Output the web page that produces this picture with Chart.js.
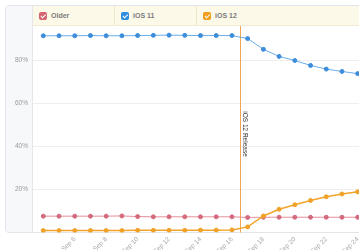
<!DOCTYPE html>
<html><head><meta charset="utf-8">
<script src="https://cdn.jsdelivr.net/npm/chart.js@4"></script>
<style>
html,body{margin:0;padding:0;background:#fff;overflow:hidden;width:359px;height:250px;}
#wrap{position:relative;width:359px;height:250px;overflow:hidden;font-family:"Liberation Sans",Arial,sans-serif;}
#card{position:absolute;left:5px;top:5px;width:420px;height:226px;border:1px solid #e2e5ea;border-radius:4px;background:#fff;}
#panel{position:absolute;left:6px;top:6px;width:26px;height:226px;background:#f7f8fa;border-right:1px solid #e4e7ec;border-radius:3px 0 0 3px;}
#legend{position:absolute;left:33px;top:6px;width:340px;height:19px;background:#fdf9e8;border-bottom:1px solid #f2ebd2;display:flex;z-index:3;}
.item{position:relative;width:82px;height:19px;border-right:1px solid #efe7cc;display:flex;align-items:center;padding-left:6px;box-sizing:border-box;font-size:7px;font-weight:bold;color:#7a7a7a;}
.item:nth-child(3){border-right:none;}
.box{width:8px;height:8px;border-radius:2px;margin-right:4px;position:relative;flex:none;}
.box:after{content:"";position:absolute;left:2.6px;top:1px;width:1.6px;height:3.6px;border-right:1.3px solid #fff;border-bottom:1.3px solid #fff;transform:rotate(45deg);}
canvas{position:absolute;left:0;top:0;z-index:2;}
</style></head>
<body><div id="wrap">
<div id="card"></div><div id="panel"></div>
<div id="legend"></div>
<canvas id="c" width="359" height="250"></canvas>
</div>
<script>
const labels = ['Sep 4','Sep 5','Sep 6','Sep 7','Sep 8','Sep 9','Sep 10','Sep 11','Sep 12','Sep 13','Sep 14','Sep 15','Sep 16','Sep 17','Sep 18','Sep 19','Sep 20','Sep 21','Sep 22','Sep 23','Sep 24'];
const older = [7.6,7.6,7.6,7.6,7.6,7.7,7.4,7.3,7.3,7.3,7.3,7.3,7.3,7.0,7.1,7.1,7.1,7.1,7.1,7.1,7.1];
const ios11 = [91.5,91.5,91.5,91.6,91.5,91.5,91.6,91.7,91.8,91.7,91.6,91.6,91.6,90.2,85.2,81.9,80.0,77.7,76.0,74.9,73.9];
const ios12 = [0.9,0.9,0.9,0.9,0.9,0.9,1.0,1.0,1.0,1.0,1.1,1.1,1.2,2.6,7.7,10.8,12.9,14.9,16.6,17.9,18.9];
const seriesNames = ['Older','iOS 11','iOS 12'];
const seriesColors = ['#d5646f','#2f8ddf','#f29d1c'];
const shownXTicks = ['Sep 6','Sep 8','Sep 10','Sep 12','Sep 14','Sep 16','Sep 18','Sep 20','Sep 22','Sep 24'];
const yTickValues = [20,40,60,80];
const releaseAt = 12.5;
const releaseText = 'iOS 12 Release';

const leg = document.getElementById('legend');
seriesNames.forEach((n,i)=>{
  const d=document.createElement('div');d.className='item';
  const b=document.createElement('span');b.className='box';b.style.background=seriesColors[i];
  d.appendChild(b);d.appendChild(document.createTextNode(n));leg.appendChild(d);
});

const pts = arr => arr.map((v,i)=>({x:i,y:v}));
const releasePlugin = {
  id:'release',
  beforeDatasetsDraw(chart){
    const {ctx, chartArea, scales:{x}} = chart;
    const px = Math.round(x.getPixelForValue(releaseAt))+0.5;
    ctx.save();
    ctx.strokeStyle='#f0a650';ctx.lineWidth=1;
    ctx.beginPath();ctx.moveTo(px,chartArea.top);ctx.lineTo(px,chartArea.bottom);ctx.stroke();
    ctx.translate(px+4,134);ctx.rotate(Math.PI/2);
    ctx.fillStyle='#333';ctx.font='6.5px "Liberation Sans", Arial, sans-serif';
    ctx.textAlign='center';ctx.textBaseline='middle';
    ctx.fillText(releaseText,0,0);
    ctx.restore();
  }
};

new Chart(document.getElementById('c'),{
  type:'line',
  data:{datasets:[
    {label:'iOS 12',data:pts(ios12),borderColor:'#f3a42b',backgroundColor:'#f0a127',pointBackgroundColor:'#f0a127',pointBorderColor:'#f0a127',borderWidth:1.5,pointRadius:2,pointBorderWidth:1,tension:0,order:0},
    {label:'Older',data:pts(older),borderColor:'#e68d9a',backgroundColor:'#d36a7d',pointBackgroundColor:'#d36a7d',pointBorderColor:'#d36a7d',borderWidth:1,pointRadius:2,pointBorderWidth:1,tension:0,order:1},
    {label:'iOS 11',data:pts(ios11),borderColor:'#6aaee9',backgroundColor:'#3d8ddb',pointBackgroundColor:'#3d8ddb',pointBorderColor:'#3d8ddb',borderWidth:1,pointRadius:2,pointBorderWidth:1,tension:0,order:2}
  ]},
  options:{
    responsive:false,animation:false,events:[],
    layout:{autoPadding:false,padding:{left:5,top:17.5,right:0,bottom:0}},
    plugins:{legend:{display:false},tooltip:{enabled:false}},
    scales:{
      x:{type:'linear',min:-0.655,max:20.083,
        afterBuildTicks:s=>{s.ticks=shownXTicks.map(t=>({value:labels.indexOf(t)}));},
        grid:{display:false,drawTicks:false},border:{display:false},
        ticks:{autoSkip:false,minRotation:45,maxRotation:45,padding:3,color:'#a8a8a8',font:{size:6.5,family:'"Liberation Sans", Arial, sans-serif'},callback:v=>labels[v]},
        afterFit:s=>{s.height=17.5;s.paddingLeft=0;s.paddingRight=0;}
      },
      y:{min:0,max:100,
        afterBuildTicks:s=>{s.ticks=yTickValues.map(v=>({value:v}));},
        grid:{color:'#efefef',drawTicks:false,lineWidth:1},border:{display:false},
        ticks:{padding:5,color:'#999',font:{size:6.5,family:'"Liberation Sans", Arial, sans-serif'},callback:v=>v+'%'},
        afterFit:s=>{s.width=28;s.paddingTop=0;s.paddingBottom=0;}
      }
    }
  },
  plugins:[releasePlugin]
});
</script>
</body></html>
